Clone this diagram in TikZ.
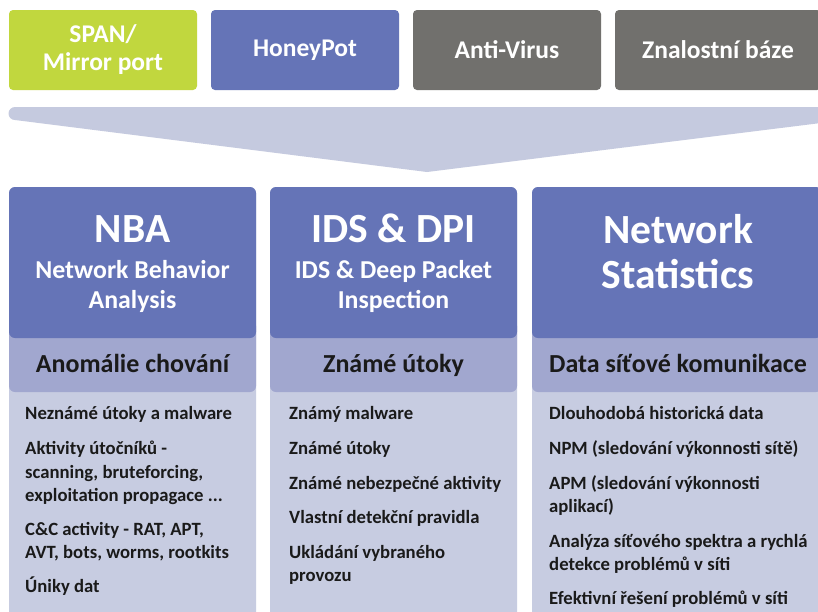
\documentclass[tikz,border=0pt]{standalone}
\usepackage{fontspec}
\setmainfont{Carlito}
\definecolor{cgreen}{HTML}{C1D73E}
\definecolor{cblue}{HTML}{6574B7}
\definecolor{cgray}{HTML}{71706D}
\definecolor{cband}{HTML}{C5CADF}
\definecolor{cmid}{HTML}{A1A7CF}
\definecolor{cbody}{HTML}{C7CCE1}
\definecolor{ctext}{HTML}{1A1A1A}
\tikzset{
  topbox/.style={rounded corners=4pt, text=white, align=center, inner sep=0pt,
    minimum height=80pt, font=\bfseries\fontsize{25.5}{28}\selectfont},
  bigtxt/.style={anchor=base, text=white, inner sep=0pt, font=\bfseries\fontsize{41.5}{45}\selectfont},
  subtxt/.style={anchor=base, text=white, inner sep=0pt, font=\bfseries\fontsize{25.8}{30}\selectfont},
  midtxt/.style={anchor=base, text=ctext, inner sep=0pt, font=\bfseries\fontsize{26}{30}\selectfont},
  itemtxt/.style={anchor=base west, text=ctext, inner sep=0pt, font=\bfseries\fontsize{18.7}{23.5}\selectfont},
}
\begin{document}
\begin{tikzpicture}[x=1pt,y=-1pt]
\useasboundingbox (0,0) rectangle (818,611);
\clip (0,0) rectangle (818,611);
\fill[white] (0,0) rectangle (818,611);

% top boxes
\node[topbox, fill=cgreen, minimum width=188pt] (span) at (103,50) {SPAN/\\Mirror port};
\node[topbox, fill=cblue, minimum width=188pt] (honey) at (305,50) {HoneyPot};
\node[topbox, fill=cgray, minimum width=188pt] (av) at (507,50) {Anti-Virus};
\node[topbox, fill=cgray, minimum width=206pt] (kb) at (718,50) {Znalostní báze};

% funnel band
\fill[cband] (15,107) -- (845,107) -- (845,120) -- (427,172) -- (15,120) -- cycle;
\fill[cband] (15,113.5) circle (6.5);

% columns: body, mid band, header
\foreach \xa/\xb in {9/256, 270/517, 532/822}{
  \fill[cbody, rounded corners=6pt] (\xa,187) rectangle (\xb,660);
  \fill[cmid, rounded corners=6pt] (\xa,320) rectangle (\xb,392);
  \fill[cblue, rounded corners=6pt] (\xa,187) rectangle (\xb,338);
}

% column 1
\node[bigtxt] (nbaT) at (132.5,242) {NBA};
\node[subtxt] (nbaS1) at (132.5,278) {Network Behavior};
\node[subtxt] (nbaS2) at (132.5,308) {Analysis};
\node[midtxt] (nbaM) at (132.5,372) {Anomálie chování};
\node[itemtxt] (a1) at (25,419) {Neznámé útoky a malware};
\node[itemtxt] (a2) at (25,454) {Aktivity útočníků -};
\node[itemtxt] (a3) at (25,478) {scanning, bruteforcing,};
\node[itemtxt] (a4) at (25,501) {exploitation propagace ...};
\node[itemtxt] (a5) at (25,535) {C\&C activity - RAT, APT,};
\node[itemtxt] (a6) at (25,558) {AVT, bots, worms, rootkits};
\node[itemtxt] (a7) at (25,592) {Úniky dat};

% column 2
\node[bigtxt] (idsT) at (393.5,242) {IDS \& DPI};
\node[subtxt] (idsS1) at (393.5,278) {IDS \& Deep Packet};
\node[subtxt] (idsS2) at (393.5,308) {Inspection};
\node[midtxt] (idsM) at (393.5,372) {Známé útoky};
\node[itemtxt] (b1) at (289,419) {Známý malware};
\node[itemtxt] (b2) at (289,454) {Známé útoky};
\node[itemtxt] (b3) at (289,489) {Známé nebezpečné aktivity};
\node[itemtxt] (b4) at (289,523) {Vlastní detekční pravidla};
\node[itemtxt] (b5) at (289,558) {Ukládání vybraného};
\node[itemtxt] (b6) at (289,581) {provozu};

% column 3
\node[bigtxt] (nsT1) at (678,243) {Network};
\node[bigtxt] (nsT2) at (678,288) {Statistics};
\node[midtxt] (nsM) at (678,372) {Data síťové komunikace};
\node[itemtxt] (c1) at (549,419) {Dlouhodobá historická data};
\node[itemtxt] (c2) at (549,454) {NPM (sledování výkonnosti sítě)};
\node[itemtxt] (c3) at (549,489) {APM (sledování výkonnosti};
\node[itemtxt] (c4) at (549,512) {aplikací)};
\node[itemtxt] (c5) at (549,547) {Analýza síťového spektra a rychlá};
\node[itemtxt] (c6) at (549,570) {detekce problémů v síti};
\node[itemtxt] (c7) at (549,604) {Efektivní řešení problémů v síti};
\end{tikzpicture}
\end{document}
